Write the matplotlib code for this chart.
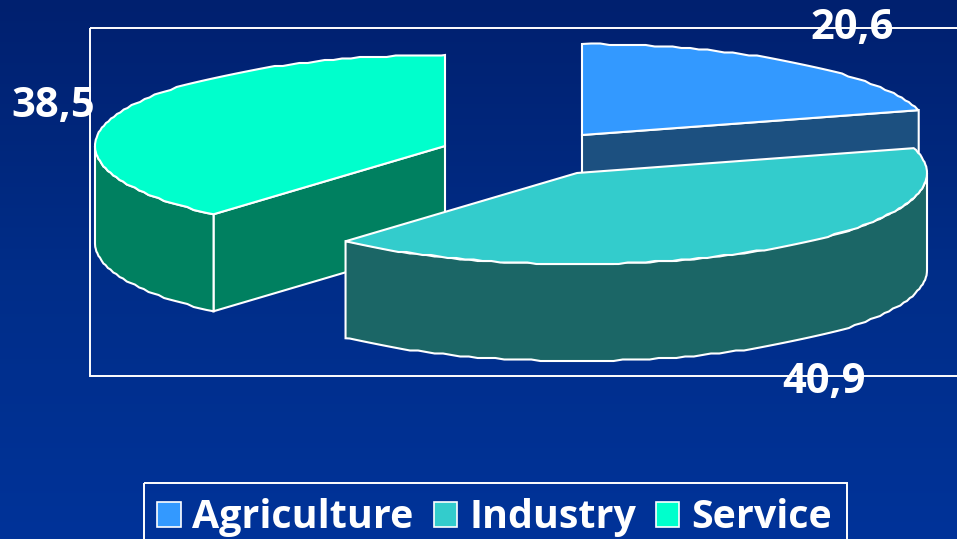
import numpy as np
import matplotlib
matplotlib.use("Agg")
import matplotlib.pyplot as plt
from matplotlib.colors import LinearSegmentedColormap
from matplotlib.patches import Patch, Polygon, Rectangle

plt.rcParams["font.family"] = ["Open Sans", "DejaVu Sans"]

# Chart data
sectors = ["Agriculture", "Industry", "Service"]
shares = [20.6, 40.9, 38.5]
share_labels = ["20,6", "40,9", "38,5"]

# Pie styling
top_colors = ["#3399FF", "#33CCCC", "#00FFCC"]
side_colors = ["#1C5080", "#1B6666", "#008060"]
centers = [(582, 135), (577, 173), (445, 146)]
label_pos = [(852, 29), (824, 382), (53, 106)]
rx, ry, depth = 350, 91, 97
white = "#FFFFFF"

fig = plt.figure(figsize=(9.57, 5.39), dpi=100)
ax = fig.add_axes([0, 0, 1, 1])
ax.set_xlim(0, 957)
ax.set_ylim(539, 0)
ax.axis("off")

# Background gradient
bg = LinearSegmentedColormap.from_list("bg", ["#00206F", "#002D88", "#003399"])
ax.imshow(np.linspace(0, 1, 256).reshape(-1, 1), cmap=bg, aspect="auto",
          extent=[0, 957, 539, 0], zorder=0)

# Plot area frame, runs off the right side
ax.add_patch(Rectangle((90, 28), 900, 348, fill=False, ec=white, lw=1.4, zorder=1))


def rim(cx, cy, a, b):
    # elliptical arc, snapped a little to get the stepped edge of the original
    t = np.radians(np.arange(a, b, 1.5))
    t = np.append(t, np.radians(b))
    x = cx + rx * np.sin(t)
    y = cy - ry * np.cos(t)
    y = np.round(y / 1.5) * 1.5
    y[0] = cy - ry * np.cos(t[0])
    y[-1] = cy - ry * np.cos(t[-1])
    return np.column_stack([x, y])


def draw_slice(i, start, end, z):
    cx, cy = centers[i]
    arc = rim(cx, cy, start, end)
    down = np.array([0, depth])

    # cut face that looks at the viewer
    if i == 0:
        face = np.array([[cx, cy], arc[-1], arc[-1] + down, [cx, cy + depth]])
        ax.add_patch(Polygon(face, fc=side_colors[i], ec=white, lw=1.5, zorder=z))
    if i == 2:
        face = np.array([[cx, cy], arc[0], arc[0] + down, [cx, cy + depth]])
        ax.add_patch(Polygon(face, fc=side_colors[i], ec=white, lw=1.5, zorder=z))

    # outer wall: only the part of the rim facing the viewer
    a = max(start, 90)
    b = min(end, 270)
    if a < b:
        front = rim(cx, cy, a, b)
        wall = np.vstack([front, front[::-1] + down])
        ax.add_patch(Polygon(wall, fc=side_colors[i], ec=white, lw=1.5, zorder=z))

    top = np.vstack([[cx, cy], arc])
    ax.add_patch(Polygon(top, fc=top_colors[i], ec=white, lw=1.5, zorder=z))


angles = np.cumsum([0] + shares) / sum(shares) * 360
for z, i in enumerate([0, 2, 1]):
    draw_slice(i, angles[i], angles[i + 1], 2 + z)

for i, lab in enumerate(share_labels):
    ax.text(label_pos[i][0], label_pos[i][1], lab, color=white, fontsize=30,
            fontweight="bold", ha="center", va="center", zorder=8)

# Legend box runs off the bottom, so it is drawn apart from the entries
ax.add_patch(Rectangle((144, 483), 703, 80, fill=False, ec=white, lw=1.4, zorder=8))
handles = [Patch(fc=c, ec=white, lw=1.2) for c in top_colors]
leg = ax.legend(handles, sectors, ncol=3, loc="upper left",
                bbox_to_anchor=(157, 498), bbox_transform=ax.transData,
                frameon=False, labelcolor=white, handlelength=0.6, handleheight=0.6,
                handletextpad=0.3, columnspacing=0.5, borderaxespad=0, borderpad=0,
                prop={"weight": "bold", "size": 28.4})
leg.set_zorder(9)

fig.savefig("out.png", dpi=100)
